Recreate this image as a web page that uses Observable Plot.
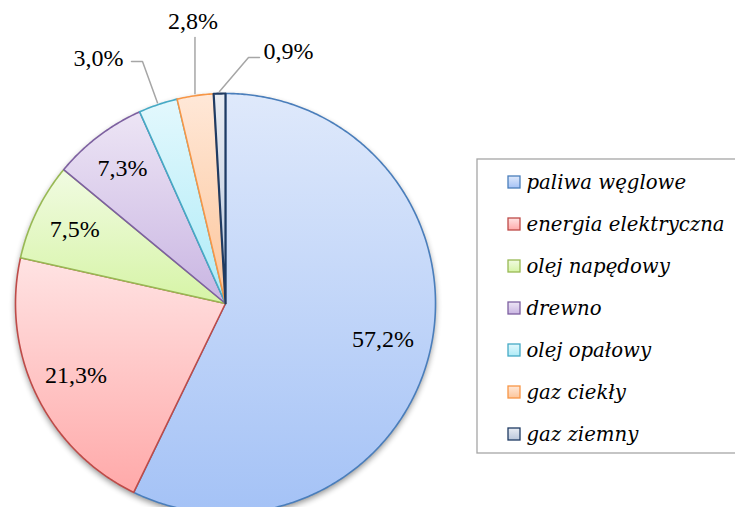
<!DOCTYPE html>
<html><head><meta charset="utf-8">
<script src="https://cdn.jsdelivr.net/npm/d3@7"></script>
<script src="https://cdn.jsdelivr.net/npm/@observablehq/plot@0.6"></script>
<style>body{margin:0;background:#fff;} svg{display:block;}</style>
</head><body><div id="chart"></div>
<script>
const categories = ["paliwa węglowe","energia elektryczna","olej napędowy","drewno","olej opałowy","gaz ciekły","gaz ziemny"];
const values = [57.2, 21.3, 7.5, 7.3, 3.0, 2.8, 0.9];
const labels = ["57,2%","21,3%","7,5%","7,3%","3,0%","2,8%","0,9%"];
const fillTop = ["#dfe9fb","#ffe3e3","#f1fbe2","#ede5f5","#e3f8fd","#ffe8d8","#e8ecf3"];
const fillBottom = ["#a4c2f6","#ffa9a9","#d6f4a6","#c9b5e2","#aeebf7","#fcc59a","#b9c6da"];
const strokes = ["#4a7ebb","#be4b48","#98b954","#7d60a0","#46aac5","#f79646","#1f3b63"];

const W = 735, H = 507;
const cx = 225, cy = 303, R = 210;
const total = d3.sum(values);
let acc = 0;
const slices = values.map((v, i) => {
  const a0 = acc / total * 2 * Math.PI; acc += v;
  const a1 = acc / total * 2 * Math.PI;
  return {i, a0, a1, v};
});
const pt = (a, r) => [cx + r * Math.sin(a), cy - r * Math.cos(a)];
function slicePoints(s) {
  const pts = [{x: cx, y: cy}];
  const n = Math.max(4, Math.ceil((s.a1 - s.a0) / 0.01));
  for (let k = 0; k <= n; k++) {
    const a = s.a0 + (s.a1 - s.a0) * k / n;
    const [x, y] = pt(a, R);
    pts.push({x, y});
  }
  pts.push({x: cx, y: cy});
  return pts;
}
const inside = [0.77, 0.79, 0.80, 0.81];
const labelData = [];
const leaders = [];
slices.forEach((s, i) => {
  const mid = (s.a0 + s.a1) / 2;
  if (i < 4) {
    const [x, y] = pt(mid, R * inside[i]);
    labelData.push({x, y, t: labels[i]});
  }
});
{
  const s = slices[4], mid = (s.a0 + s.a1) / 2;
  const [ex, ey] = pt(mid, R + 2);
  leaders.push([{x: ex, y: ey}, {x: 142, y: 61}, {x: 131, y: 61}]);
  labelData.push({x: 98, y: 58, t: labels[4]});
}
{
  const s = slices[5], mid = (s.a0 + s.a1) / 2;
  const [ex, ey] = pt(mid, R + 2);
  leaders.push([{x: ex, y: ey}, {x: ex, y: 37}]);
  labelData.push({x: ex - 2, y: 21, t: labels[5]});
}
{
  const s = slices[6], mid = (s.a0 + s.a1) / 2;
  const [ex, ey] = pt(mid, R + 2);
  leaders.push([{x: ex, y: ey}, {x: 248, y: 57}, {x: 259, y: 57}]);
  labelData.push({x: 288, y: 51, t: labels[6]});
}
const legendRows = categories.map((c, i) => ({i, c, y: 182 + i * 42}));

const defs = () => {
  const ns = "http://www.w3.org/2000/svg";
  const d = document.createElementNS(ns, "defs");
  let html = `<filter id="shadow" x="-10%" y="-10%" width="120%" height="120%"><feGaussianBlur in="SourceAlpha" stdDeviation="3"/><feOffset dx="0" dy="3"/><feComponentTransfer><feFuncA type="linear" slope="0.45"/></feComponentTransfer></filter>`;
  categories.forEach((c, i) => {
    html += `<linearGradient id="g${i}" x1="0" y1="0" x2="0" y2="1"><stop offset="0" stop-color="${fillTop[i]}"/><stop offset="1" stop-color="${fillBottom[i]}"/></linearGradient>`;
  });
  d.innerHTML = html;
  return d;
};

const marks = [defs];
marks.push(Plot.line(slices.flatMap(s => slicePoints(s).slice(1, -1)), {x: "x", y: "y", fill: "#000", stroke: "none", render: (index, scales, values, dims, ctx, next) => { const g = next(index, scales, values, dims, ctx); g.setAttribute("filter", "url(#shadow)"); return g; }}));
slices.forEach((s, i) => {
  marks.push(Plot.line(slicePoints(s), {x: "x", y: "y", fill: `url(#g${i})`, stroke: strokes[i], strokeWidth: i === 6 ? 2.2 : 1.6, strokeLinejoin: "round", curve: "linear"}));
});
leaders.forEach(l => marks.push(Plot.line(l, {x: "x", y: "y", stroke: "#a6a6a6", strokeWidth: 1.5})));
marks.push(Plot.text(labelData, {x: "x", y: "y", text: "t", fontSize: 24, fill: "#000", fontFamily: "Liberation Serif"}));
marks.push(Plot.rect([{x1: 477, x2: 740, y1: 159, y2: 453}], {x1: "x1", x2: "x2", y1: "y1", y2: "y2", fill: "#fff", stroke: "#a6a6a6", strokeWidth: 1.3}));
legendRows.forEach(r => {
  marks.push(Plot.rect([r], {x1: () => 508, x2: () => 520, y1: d => d.y - 6, y2: d => d.y + 6, fill: `url(#g${r.i})`, stroke: strokes[r.i], strokeWidth: 1.3}));
});
marks.push(Plot.text(legendRows, {x: () => 526, y: "y", text: "c", textAnchor: "start", fontSize: 19.7, fontStyle: "italic", fontFamily: "DejaVu Serif", fill: "#000"}));

const chart = Plot.plot({
  width: W, height: H, margin: 0,
  x: {domain: [0, W], range: [0, W], axis: null},
  y: {domain: [0, H], range: [0, H], axis: null},
  marks
});
document.getElementById("chart").appendChild(chart);
</script></body></html>
